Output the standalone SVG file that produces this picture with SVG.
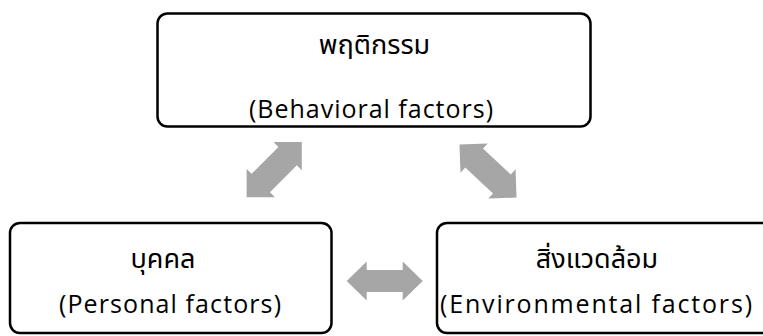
<svg xmlns="http://www.w3.org/2000/svg" width="763" height="336" viewBox="0 0 763 336">
<defs>
<style>
.box{fill:#fff;stroke:#000;stroke-width:2.5}
.arr{fill:#A6A6A6}
.t{font-family:"Open Sans","Noto Sans Thai","Noto Sans","DejaVu Sans",sans-serif;font-size:25px;fill:#000;text-anchor:middle}
.th{font-family:"Noto Sans Thai","Open Sans","Noto Sans","DejaVu Sans",sans-serif;font-size:27px;fill:#000;text-anchor:middle}
</style>
<polygon id="dArr" points="0,0 20,-20 20,-13 58,-13 58,-20 78,0 58,20 58,13 20,13 20,20"/>
<polygon id="hArr" points="0,0 20,-19.5 20,-11 56,-11 56,-19.5 76,0 56,19.5 56,11 20,11 20,19.5"/>
</defs>
<rect width="763" height="336" fill="#fff"/>
<g id="connectors">
<use href="#dArr" class="arr" transform="translate(274.2,169.6) rotate(-45) translate(-39,0)"/>
<use href="#dArr" class="arr" transform="translate(488,171) rotate(43) translate(-39,0)"/>
<use href="#hArr" class="arr" transform="translate(346.7,281)"/>
</g>
<g id="behavioral">
<rect class="box" x="157.5" y="13.5" width="433" height="113" rx="10"/>
<text class="th" x="374.5" y="54">พฤติกรรม</text>
<text class="t" x="371" y="118" textLength="244" lengthAdjust="spacing">(Behavioral factors)</text>
</g>
<g id="personal">
<rect class="box" x="10" y="223" width="321.5" height="110" rx="10"/>
<text class="th" x="163" y="268">บุคคล</text>
<text class="t" x="170" y="313" textLength="222" lengthAdjust="spacing">(Personal factors)</text>
</g>
<g id="environmental">
<rect class="box" x="437" y="223" width="345" height="110" rx="10"/>
<text class="th" x="597" y="268">สิ่งแวดล้อม</text>
<text class="t" x="596" y="313" textLength="312" lengthAdjust="spacing">(Environmental factors)</text>
</g>
</svg>
